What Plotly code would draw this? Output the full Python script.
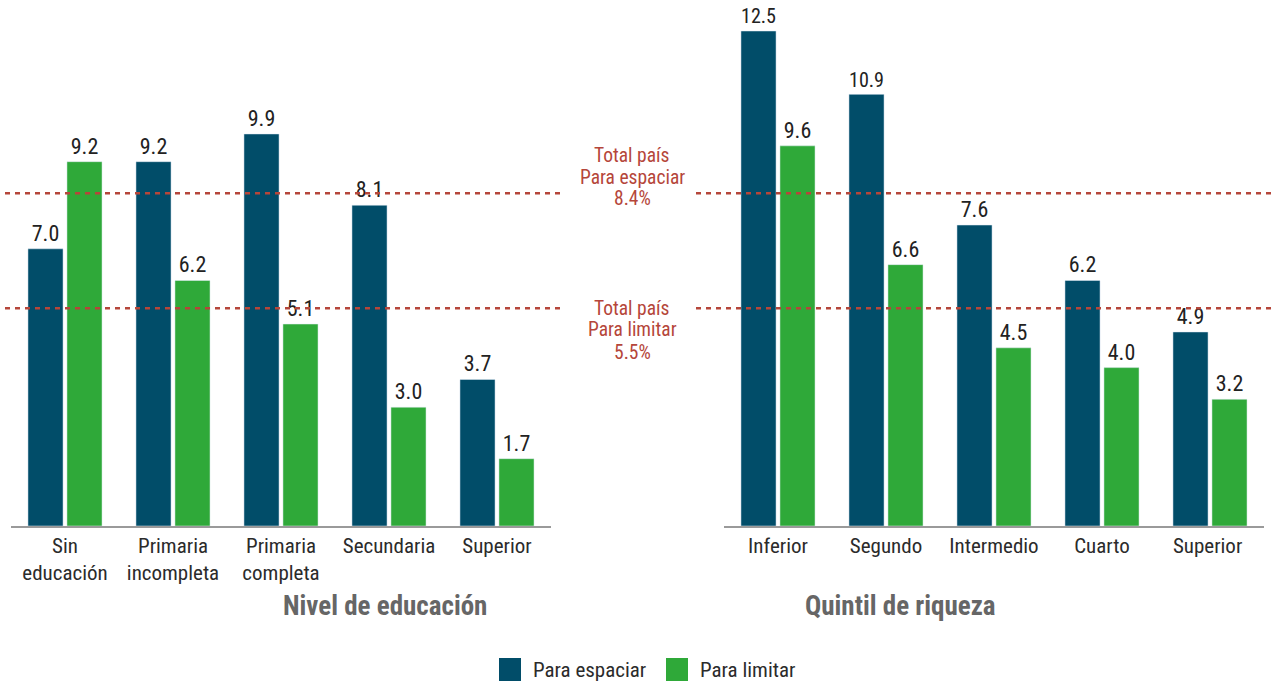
import plotly.graph_objects as go

edu_cats = ["Sin<br>educación", "Primaria<br>incompleta", "Primaria<br>completa", "Secundaria", "Superior"]
edu_espaciar = [7.0, 9.2, 9.9, 8.1, 3.7]
edu_limitar = [9.2, 6.2, 5.1, 3.0, 1.7]

riq_cats = ["Inferior", "Segundo", "Intermedio", "Cuarto", "Superior "]
riq_espaciar = [12.5, 10.9, 7.6, 6.2, 4.9]
riq_limitar = [9.6, 6.6, 4.5, 4.0, 3.2]

total_espaciar = 8.4
total_limitar = 5.5

BLUE = "#014d69"
GREEN = "#2fa939"
RED = "#b5463a"
FONT = "Liberation Sans Narrow, Roboto Condensed, Roboto, sans-serif"

W, H = 1279, 686
OFF = 0            # page body margin removed below
TOP, BOT = 0, 526  # plot area in figure pixels
PH = BOT - TOP
SCALE = 39.6       # pixels per unit

def px(x):
    return (x - OFF) / W

def py(y):
    return (BOT - (y - OFF)) / PH

fig = go.Figure()

def add(x, y, color, name, xa, ya):
    fig.add_trace(go.Bar(
        x=x, y=y, name=name, marker_color=color, xaxis=xa, yaxis=ya,
        text=[f"{v:.1f}" for v in y], textposition="outside",
        textfont=dict(size=22, color="#222", family=FONT),
        cliponaxis=False, showlegend=False,
    ))

add(edu_cats, edu_espaciar, BLUE, "Para espaciar", "x", "y")
add(edu_cats, edu_limitar, GREEN, "Para limitar", "x", "y")
add(riq_cats, riq_espaciar, BLUE, "Para espaciar", "x2", "y2")
add(riq_cats, riq_limitar, GREEN, "Para limitar", "x2", "y2")

yr = [0, PH / SCALE]
axis_x = dict(showline=True, linecolor="#9a9a9a", linewidth=1.5, ticks="",
              tickfont=dict(size=21, color="#2b2b2b", family=FONT), showgrid=False)
axis_y = dict(visible=False, range=yr, showgrid=False, zeroline=False)

fig.update_layout(
    width=W, height=H,
    margin=dict(l=0, r=0, t=TOP, b=H - BOT),
    plot_bgcolor="white", paper_bgcolor="white",
    barmode="group", bargap=0.278, bargroupgap=0.1,
    font=dict(family=FONT),
    showlegend=False,
    xaxis=dict(domain=[px(11), px(551)], **axis_x),
    xaxis2=dict(domain=[px(724), px(1264)], **axis_x),
    yaxis=dict(anchor="x", **axis_y),
    yaxis2=dict(anchor="x2", **axis_y),
)

# dashed total lines
for v in (total_espaciar, total_limitar):
    fig.add_shape(type="line", xref="paper", yref="y", x0=px(5), x1=px(564), y0=v, y1=v,
                  line=dict(color=RED, width=2.5, dash="5px,5px"))
    fig.add_shape(type="line", xref="paper", yref="y", x0=px(696), x1=px(1276), y0=v, y1=v,
                  line=dict(color=RED, width=2.5, dash="5px,5px"))

ann_lines = [
    ("Total país", 155), ("Para espaciar", 177), (f"{total_espaciar}%", 199),
    ("Total país", 308), ("Para limitar", 330), (f"{total_limitar}%", 352),
]
for txt, yy in ann_lines:
    fig.add_annotation(xref="paper", yref="paper", x=px(632), y=py(yy),
                       text=txt, showarrow=False, borderpad=0,
                       font=dict(size=19.5, color=RED, family=FONT), yanchor="middle")

fig.add_annotation(xref="paper", yref="paper", x=px(281), y=py(606),
                   text="<b>Nivel de educación</b>", showarrow=False,
                   font=dict(size=27, color="#666", family=FONT), yanchor="middle")
fig.add_annotation(xref="paper", yref="paper", x=px(998), y=py(606),
                   text="<b>Quintil de riqueza</b>", showarrow=False,
                   font=dict(size=27, color="#666", family=FONT), yanchor="middle")

# legend
for x0, color, label in ((499, BLUE, "Para espaciar"), (666, GREEN, "Para limitar")):
    fig.add_shape(type="rect", xref="paper", yref="paper",
                  x0=px(x0), x1=px(x0 + 22), y0=py(681), y1=py(658),
                  fillcolor=color, line=dict(width=0))
    fig.add_annotation(xref="paper", yref="paper", x=px(x0 + 32), y=py(670),
                       text=label, showarrow=False, xanchor="left", yanchor="middle",
                       font=dict(size=21, color="#2b2b2b", family=FONT))

fig.write_html("out.html", config={"displayModeBar": False},
               post_script="document.body.style.margin='0';")
